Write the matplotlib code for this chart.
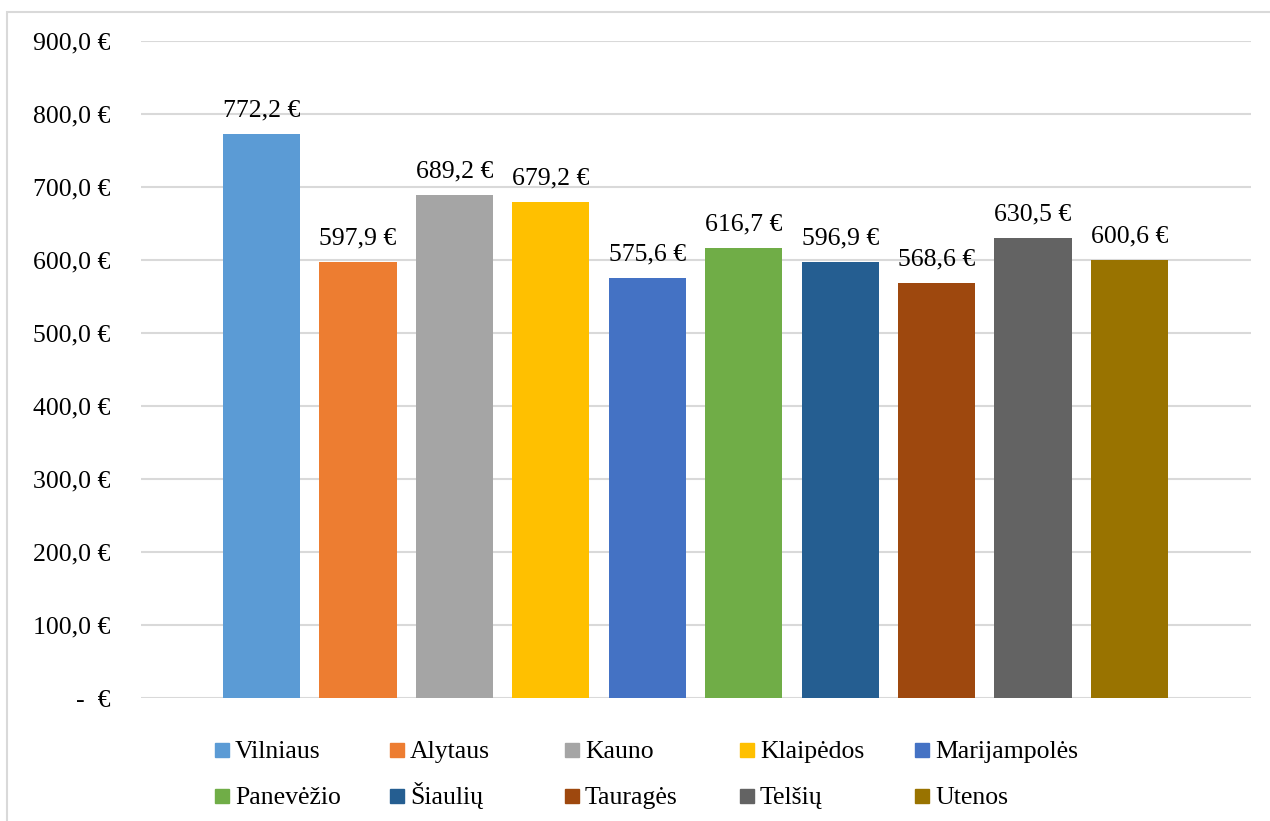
import numpy as np
import matplotlib
matplotlib.use("Agg")
import matplotlib.pyplot as plt
from matplotlib.patches import Rectangle
from matplotlib.ticker import FuncFormatter, MultipleLocator

plt.rcParams['font.family'] = ['Liberation Serif', 'DejaVu Serif']

# data ############
regions = ["Vilniaus", "Alytaus", "Kauno", "Klaipėdos", "Marijampolės",
           "Panevėžio", "Šiaulių", "Tauragės", "Telšių", "Utenos"]
values = [772.2, 597.9, 689.2, 679.2, 575.6, 616.7, 596.9, 568.6, 630.5, 600.6]
colors = ["#5B9BD5", "#ED7D31", "#A5A5A5", "#FFC000", "#4472C4",
          "#70AD47", "#255E91", "#9E480E", "#636363", "#997300"]
###################


def eur(v, pos=None):
    if v == 0:
        return "-  €"
    return f"{v:,.1f}".replace(",", " ").replace(".", ",") + " €"


W, H = 1270, 821
fig = plt.figure(figsize=(W / 100, H / 100), dpi=100)
ax = fig.add_axes([141 / W, 1 - 698 / H, 1110 / W, 657 / H])

# outer chart border (light grey)
fig.patches.append(Rectangle((7 / W, -0.1), 1.2, 1 - 12 / H + 0.1,
                             transform=fig.transFigure, fill=False,
                             edgecolor="#d9d9d9", linewidth=1.5, zorder=0))

x = np.arange(len(values))
bars = ax.bar(x, values, width=0.8, color=colors, zorder=3)
ax.bar_label(bars, labels=[eur(v) for v in values], padding=9, fontsize=18.5)

ax.set_ylim(0, 900)
ax.set_xlim(-1.25, 10.26)
ax.yaxis.set_major_locator(MultipleLocator(100))
ax.yaxis.set_major_formatter(FuncFormatter(eur))
ax.grid(axis="y", color="#d9d9d9", linewidth=1.5, zorder=0)
ax.set_axisbelow(True)
for s in ax.spines.values():
    s.set_visible(False)
ax.set_xticks([])
ax.tick_params(axis="y", length=0, pad=22, labelsize=18.5)

# legend, 2 rows x 5 columns
for i, (name, c) in enumerate(zip(regions, colors)):
    col, row = i % 5, i // 5
    px = 215 + col * 175
    py = 750 + row * 46
    fig.patches.append(Rectangle((px / W, 1 - (py + 7) / H), 14 / W, 14 / H,
                                 transform=fig.transFigure, color=c))
    fig.text((px + 20) / W, 1 - (py + 8) / H, name, fontsize=18.5, va="baseline")

fig.savefig("out.png", dpi=100)
